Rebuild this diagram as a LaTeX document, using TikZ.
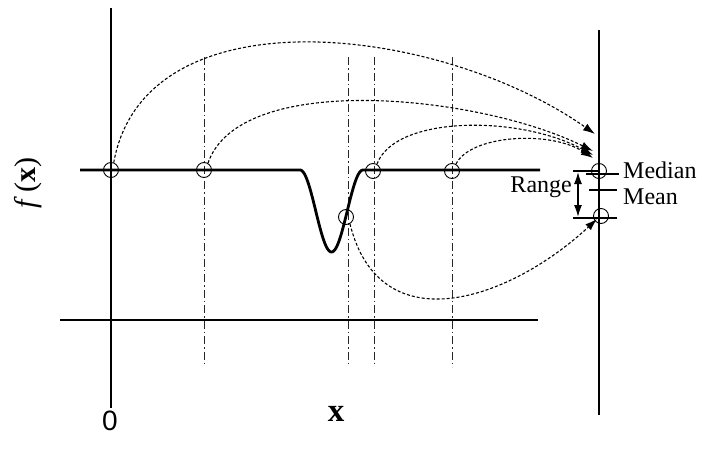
\documentclass[tikz,border=0pt]{standalone}
\usepackage{fontspec}
\setmainfont{Liberation Serif}
\newfontfamily\arialfont{Liberation Sans}
\usetikzlibrary{arrows.meta}
\tikzset{
  axisline/.style={line width=1.1pt, black},
  guideline/.style={line width=0.9pt, black!85, dash pattern=on 8pt off 3pt on 1.5pt off 3pt},
  curveline/.style={line width=2.8pt, black},
  probe/.style={circle, draw, line width=0.9pt, minimum size=15pt, inner sep=0pt},
  samplearrow/.style={line width=1.1pt, dash pattern=on 3pt off 2pt, -{Latex[length=12pt,width=8pt]}},
  lbl/.style={font=\fontsize{24}{24}\selectfont, inner sep=0pt},
  tick/.style={line width=1.1pt}
}
\begin{document}
\begin{tikzpicture}[x=1pt,y=-1pt]
\useasboundingbox (0,0) rectangle (702,450);
% axes
\coordinate (ytop) at (111,8);
\coordinate (ybot) at (111,408);
\coordinate (xl) at (60,320);
\coordinate (xr) at (538,320);
\coordinate (rtop) at (599,30);
\coordinate (rbot) at (599,415);
\draw[axisline] (ytop) -- (ybot);
\draw[axisline] (xl) -- (xr);
\draw[axisline] (rtop) -- (rbot);
% guide lines
\foreach \gx/\gb in {204/365,348/365,374/365,452/367}{
  \draw[guideline] (\gx,57) -- (\gx,\gb);
}
% function curve
\draw[curveline] (80,170) -- (300,170) -- plot[domain=0:63, samples=80] ({300+\x},{170+41*(1-cos(5.71429*\x))}) -- (540,170);
% sample circles
\node[probe] (c1) at (111,170) {};
\node[probe] (c2) at (204,170) {};
\node[probe] (c3) at (346,217) {};
\node[probe] (c4) at (373,171) {};
\node[probe] (c5) at (452,171) {};
\node[probe] (med) at (599,171) {};
\node[probe] (low) at (601,216) {};
% right ticks
\coordinate (rt1) at (573,171); \coordinate (rt2) at (600,171);
\coordinate (mt1) at (586,174); \coordinate (mt2) at (619,174);
\coordinate (me1) at (589,190); \coordinate (me2) at (617,190);
\coordinate (bt1) at (573,218); \coordinate (bt2) at (617,218);
\draw[tick] (rt1) -- (rt2);
\draw[tick] (mt1) -- (mt2);
\draw[tick] (me1) -- (me2);
\draw[tick] (bt1) -- (bt2);
\coordinate (ra1) at (578,172); \coordinate (ra2) at (578,217);
\draw[line width=1.6pt, {Latex[length=12pt,width=8pt]}-{Latex[length=12pt,width=8pt]}] (ra1) -- (ra2);
% arrow targets
\coordinate (e1) at (595,134);
\coordinate (e2) at (593,151);
\coordinate (e3) at (593,155);
\coordinate (e4) at (593,158);
\coordinate (e5) at (597,219);
\draw[samplearrow] (c1.70) .. controls (145,-10) and (440,25) .. (e1);
\draw[samplearrow] (c2.60) .. controls (240,70) and (480,95) .. (e2);
\draw[samplearrow] (c4.60) .. controls (395,115) and (520,115) .. (e3);
\draw[samplearrow] (c5.60) .. controls (470,135) and (550,130) .. (e4);
\draw[samplearrow] (c3.-60) .. controls (380,345) and (510,300) .. (e5);
% labels
\node[lbl, anchor=west] (tmed) at (623,170) {Median};
\node[lbl, anchor=west] (tmean) at (623,197) {Mean};
\node[lbl, anchor=east] (trange) at (572,187) {Range};
\node[font=\fontsize{30}{30}\selectfont, rotate=90, inner sep=0pt] (fx) at (28,183) {\textit{f}\,(\textbf{x})};
\node[font=\fontsize{33}{33}\selectfont\bfseries, inner sep=0pt] (xlab) at (336,414) {x};
\node[font=\fontsize{28}{28}\selectfont\arialfont, inner sep=0pt] (zero) at (110,421) {0};
\end{tikzpicture}
\end{document}
